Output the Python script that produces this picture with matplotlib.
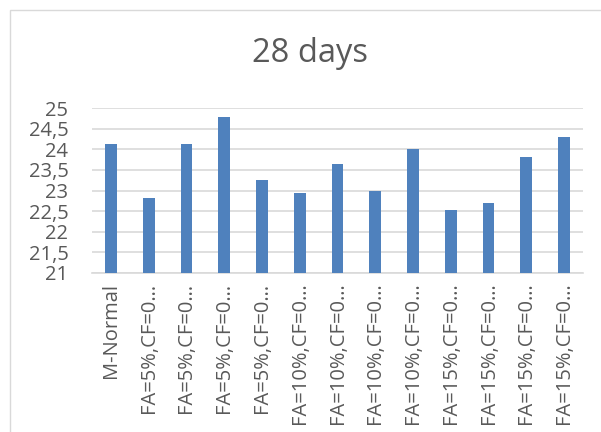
import matplotlib
matplotlib.use("Agg")
import matplotlib.pyplot as plt
from matplotlib.ticker import FuncFormatter
from matplotlib.patches import Rectangle

categories = ["M-Normal",
              "FA=5%,CF=0…", "FA=5%,CF=0…", "FA=5%,CF=0…", "FA=5%,CF=0…",
              "FA=10%,CF=0…", "FA=10%,CF=0…", "FA=10%,CF=0…", "FA=10%,CF=0…",
              "FA=15%,CF=0…", "FA=15%,CF=0…", "FA=15%,CF=0…", "FA=15%,CF=0…"]
values = [24.13, 22.82, 24.13, 24.78, 23.25, 22.94, 23.65, 23.0, 24.0,
          22.52, 22.69, 23.82, 24.30]
y_ticks = [21, 21.5, 22, 22.5, 23, 23.5, 24, 24.5, 25]
title = "28 days"

plt.rcParams['font.family'] = ['Open Sans', 'DejaVu Sans']
TXT = '#595959'
W, H = 601, 432
fig = plt.figure(figsize=(W/100, H/100), dpi=100)

# chart area border
fig.patches.append(Rectangle((10/W, -0.05), 1.2, 1 - 10/H + 0.05,
                             transform=fig.transFigure, fill=False,
                             edgecolor='#D9D9D9', linewidth=1.0))

ax = fig.add_axes([92/W, 1 - 273/H, (583-92)/W, (273-108)/H])
x = list(range(len(categories)))
ax.bar(x, values, width=0.31, color='#4F81BD', zorder=3, bottom=0)
ax.set_xlim(-0.5, len(categories) - 0.5)
ax.set_ylim(21, 25)
ax.set_yticks(y_ticks)
ax.yaxis.set_major_formatter(FuncFormatter(
    lambda v, p: (f"{v:g}").replace('.', ',')))
ax.set_xticks(x)
ax.set_xticklabels(categories, rotation=90, va='top', ha='center')
ax.tick_params(axis='both', length=0, colors=TXT, labelsize=14.5)
ax.tick_params(axis='x', pad=7)
ax.tick_params(axis='y', pad=17)
ax.grid(axis='y', color='#D9D9D9', linewidth=1.2, zorder=0)
for s in ['top', 'right', 'left']:
    ax.spines[s].set_visible(False)
ax.spines['bottom'].set_color('#D9D9D9')
ax.spines['bottom'].set_linewidth(1.2)

fig.text(310/W, 1 - 54/H, title, ha='center', va='center',
         fontsize=23.5, color=TXT)

fig.savefig('out.png', dpi=100)
